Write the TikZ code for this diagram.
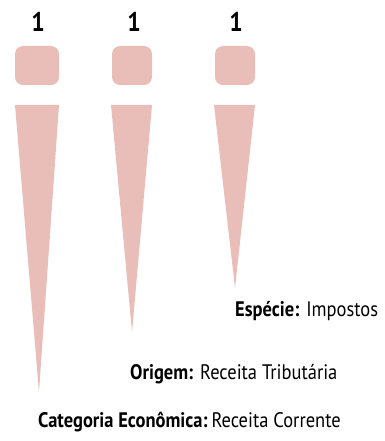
\documentclass[tikz,border=0pt]{standalone}
\usepackage{fontspec}
\setmainfont[FakeStretch=0.88]{PT Sans}
\definecolor{pinkfill}{HTML}{E9BEB8}
\begin{document}
\begin{tikzpicture}[x=1pt,y=-1pt,
  box/.style={fill=pinkfill,rounded corners=8pt},
  wedge/.style={fill=pinkfill},
  num/.style={font=\fontsize{27}{29}\selectfont\bfseries,inner sep=0pt},
  lbl/.style={font=\fontsize{21}{23}\selectfont,inner sep=0pt,anchor=west}]
\useasboundingbox (0,0) rectangle (384,441);
\node[num] (n1) at (38,22) {1};
\node[num] (n2) at (134,22) {1};
\node[num] (n3) at (236,22) {1};
\fill[box] (15,46) rectangle (59,85);
\fill[box] (112,46) rectangle (152,85);
\fill[box] (215,46) rectangle (255,85);
\fill[wedge] (15,105) -- (59,105) -- (39,392) -- cycle;
\fill[wedge] (111,105) -- (152,105) -- (132,332) -- cycle;
\fill[wedge] (214,105) -- (255,105) -- (235,288) -- cycle;
\node[lbl] (esp) at (235,311) {\textbf{Espécie:}\hspace{7pt}Impostos};
\node[lbl] (ori) at (130,374) {\textbf{Origem:}\hspace{7pt}Receita Tributária};
\node[lbl] (cat) at (38,422) {\textbf{Categoria Econômica:}\hspace{4pt}Receita Corrente};
\end{tikzpicture}
\end{document}
